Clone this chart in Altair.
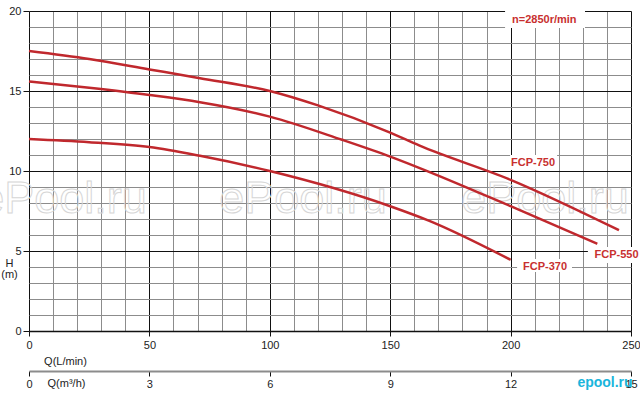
import altair as alt
import pandas as pd

# ---- pump curves (Q in L/min, H in m) ----
models = ["FCP-750", "FCP-550", "FCP-370"]
q750 = [0, 25, 50, 71, 100, 120, 150, 162, 200, 245]
h750 = [17.5, 17.0, 16.35, 15.8, 15.0, 14.1, 12.4, 11.6, 9.45, 6.3]
q550 = [0, 25, 50, 71, 100, 130, 150, 162, 200, 236]
h550 = [15.6, 15.2, 14.75, 14.3, 13.4, 11.95, 10.9, 10.2, 7.8, 5.45]
q370 = [0, 25, 50, 71, 100, 150, 166, 200]
h370 = [12.0, 11.8, 11.5, 10.95, 10.0, 7.8, 6.9, 4.45]

# ---- axes ----
q_ticks = list(range(0, 251, 10))
h_ticks = list(range(0, 21, 1))
m3h_ticks = [0, 3, 6, 9, 12, 15]

# ---- annotations ----
ann_text = ["FCP-750", "FCP-550", "FCP-370", "n=2850r/min"]
ann_q = [209.3, 244.0, 214.3, 214.0]
ann_h = [10.5, 4.72, 4.03, 19.44]
box_q1 = [199.8, 232.1, 202.7, 197.7]
box_q2 = [219.3, 253.8, 225.5, 230.9]
box_h1 = [10.06, 4.25, 3.69, 18.94]
box_h2 = [11.0, 5.25, 4.5, 20.7]

wm_text = ["ePool.ru", "ePool.ru", "ePool.ru"]
wm_q = [14.1, 113.8, 214.3]
wm_h = [7.375, 7.375, 7.375]

logo_text = ["epool.ru"]
logo_q = [239.2]
logo_h = [-3.25]

RED = "#c0282d"
LABEL_RED = "#c8302f"
MINOR = "#8c8c8c"
MAJOR = "#111111"
FONT = "Liberation Sans"

rows = []
for name, qs, hs in [("FCP-750", q750, h750), ("FCP-550", q550, h550), ("FCP-370", q370, h370)]:
    for i, (q, h) in enumerate(zip(qs, hs)):
        rows.append({"model": name, "idx": i, "Q": q, "H": h})
curves = pd.DataFrame(rows)

ann = pd.DataFrame({"text": ann_text, "Q": ann_q, "H": ann_h,
                    "q1": box_q1, "q2": box_q2, "h1": box_h1, "h2": box_h2})
wm = pd.DataFrame({"text": wm_text, "Q": wm_q, "H": wm_h})
logo = pd.DataFrame({"text": logo_text, "Q": logo_q, "H": logo_h})

x_axis = alt.Axis(
    values=q_ticks, grid=True,
    gridColor={"condition": {"test": "datum.value % 50 === 0", "value": MAJOR}, "value": MINOR},
    gridWidth=1,
    labelExpr="datum.value % 50 === 0 ? datum.label : ''",
    tickOpacity={"condition": {"test": "datum.value % 50 === 0", "value": 1}, "value": 0},
    tickSize=5, tickColor=MAJOR, domainColor=MAJOR, domainWidth=1.5,
    labelFontSize=11, labelColor="#222", labelPadding=3, labelFlush=False, labelOverlap=False,
    title="Q(L/min)", titleX=36, titleY=30, titleFontSize=11, titleFontWeight="normal",
    titleColor="#222", titleBaseline="middle", titleAlign="center",
)
y_axis = alt.Axis(
    values=h_ticks, grid=True,
    gridColor={"condition": {"test": "datum.value % 5 === 0", "value": MAJOR}, "value": MINOR},
    gridWidth=1,
    labelExpr="datum.value % 5 === 0 ? datum.label : ''",
    tickOpacity={"condition": {"test": "datum.value % 5 === 0", "value": 1}, "value": 0},
    tickSize=6, tickColor=MAJOR, domain=False,
    labelFontSize=11, labelColor="#222", labelPadding=2, labelFlush=False, labelOverlap=False,
    title=["H", "(m)"], titleAngle=0, titleX=-20, titleY=246, titleFontSize=11,
    titleFontWeight="normal", titleColor="#222", titleBaseline="top", titleAlign="center",
    titleLineHeight=11,
)

xs = alt.Scale(domain=[0, 250], nice=False, zero=False)
ys = alt.Scale(domain=[0, 20], nice=False, zero=False)


def X(field):
    return alt.X(field, scale=xs, axis=x_axis)


def Y(field):
    return alt.Y(field, scale=ys, axis=y_axis)


watermark = alt.Chart(wm).mark_text(
    font=FONT, fontSize=45, align="center", baseline="alphabetic",
    fillOpacity=0, stroke="#d6d6d6", strokeWidth=1, clip=False,
).encode(x=X("Q:Q"), y=Y("H:Q"), text="text:N")

boxes = alt.Chart(ann).mark_rect(color="white", clip=False).encode(
    x=X("q1:Q"), x2="q2", y=Y("h1:Q"), y2="h2",
)

lines = alt.Chart(curves).mark_line(
    interpolate="monotone", strokeWidth=2.5, color=RED, clip=False,
).encode(x=X("Q:Q"), y=Y("H:Q"), detail="model:N", order="idx:Q")

labels = alt.Chart(ann).mark_text(
    font=FONT, fontSize=11, fontWeight="bold", color=LABEL_RED,
    align="center", baseline="middle", clip=False,
).encode(x=X("Q:Q"), y=Y("H:Q"), text="text:N")

logo_layer = alt.Chart(logo).mark_text(
    font=FONT, fontSize=14, fontWeight="bold", color="#19b5dc",
    align="center", baseline="middle", clip=False,
).encode(x=X("Q:Q"), y=Y("H:Q"), text="text:N")

second_axis = alt.Chart(pd.DataFrame({"M": m3h_ticks})).mark_tick(opacity=0).encode(
    x=alt.X("M:Q", scale=alt.Scale(domain=[0, 15], nice=False, zero=False),
            axis=alt.Axis(orient="bottom", offset=40, values=m3h_ticks, grid=False,
                          domainColor=MINOR, domainWidth=2, tickColor=MAJOR, tickSize=5,
                          labelFontSize=11, labelColor="#222", labelPadding=2,
                          labelFlush=False, labelOverlap=False,
                          title="Q(m³/h)", titleX=37, titleY=12, titleFontSize=11,
                          titleFontWeight="normal", titleColor="#222",
                          titleBaseline="middle", titleAlign="center")),
)

main = alt.layer(watermark, boxes, lines, labels, logo_layer)
chart = alt.layer(main, second_axis).resolve_scale(x="independent").properties(
    width=602, height=320,
    padding={"left": 29, "top": 11, "right": 9, "bottom": 64},
    autosize=alt.AutoSizeParams(type="none"),
    background="white",
).configure(font=FONT).configure_view(strokeWidth=0)

chart.save("out.html", embed_options={"renderer": "svg", "actions": False})
